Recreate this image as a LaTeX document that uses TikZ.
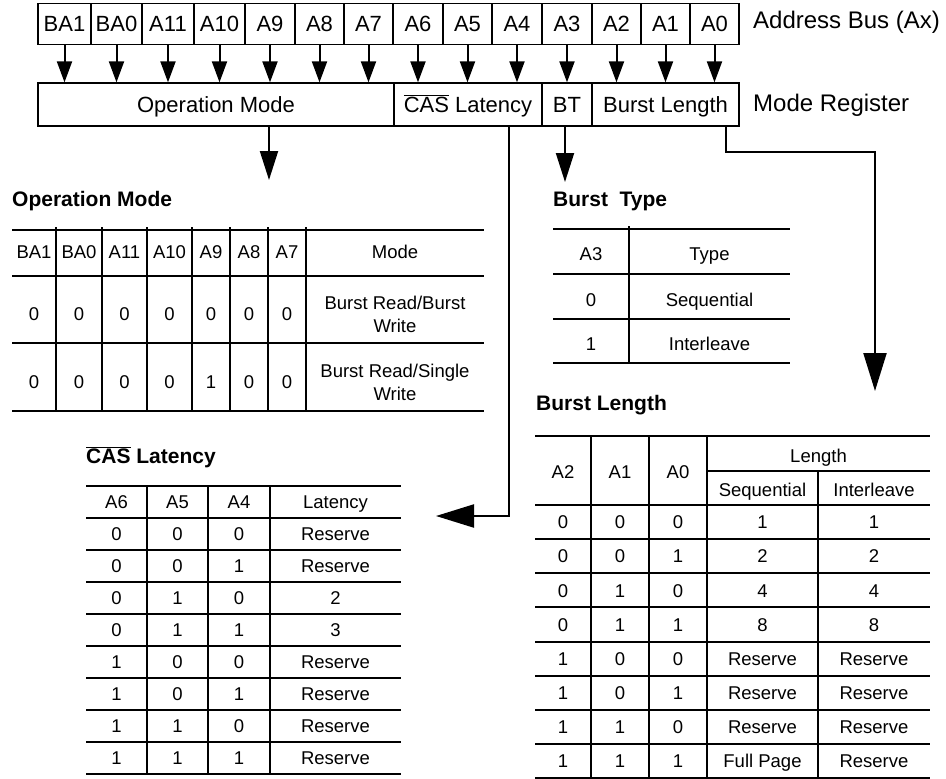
\documentclass[tikz,border=0pt]{standalone}
\usepackage{fontspec}
\setmainfont{Liberation Sans}
\usetikzlibrary{arrows.meta}
\newcommand{\bussz}{\fontsize{22}{24}\selectfont}
\newcommand{\lblsz}{\fontsize{24}{26}\selectfont}
\newcommand{\tabsz}{\fontsize{18.5}{23}\selectfont}
\newcommand{\ttlsz}{\fontsize{21}{23}\selectfont\bfseries}
\newcommand{\negsig}[1]{$\overline{\mbox{#1}}$}

\begin{document}
\begin{tikzpicture}[x=1pt,y=-1pt,
  cell/.style={draw,line width=1.3pt,inner sep=0pt,minimum height=41pt,text height=15.8pt,text depth=0pt,font=\bussz},
  arr/.style={line width=2pt,-{Triangle[length=21pt,width=15pt]}},
  midarr/.style={line width=2pt,-{Triangle[length=29pt,width=18pt]}},
  bigarr/.style={line width=2.2pt,-{Triangle[length=38pt,width=23pt]}},
  rule/.style={line width=2pt},
  sep/.style={line width=1.3pt},
  tab/.style={font=\tabsz,inner sep=0pt,text height=13.3pt,text depth=0pt},
  tabml/.style={font=\tabsz,inner sep=0pt,align=center},
  title/.style={font=\ttlsz,anchor=west,inner sep=0pt}]
  \useasboundingbox (0,0) rectangle (946,779);

  % address bus
  \foreach \l/\r/\t [count=\i] in {38/91/BA1,91/142/BA0,142/194/A11,194/245/A10,245/295/A9,295/344/A8,344/393/A7,393/443/A6,443/492/A5,492/542/A4,542/592/A3,592/641/A2,641/690/A1,690/739/A0}
    \node[cell,minimum width={\r-\l}] (bus\i) at ({(\l+\r)/2},24) {\t};
  \node[anchor=west,inner sep=0pt,font=\lblsz] (buslbl) at (753,22) {Address Bus (Ax)};

  % mode register
  \node[cell,minimum width=356,minimum height=43] (opm) at (216,104.5) {Operation Mode};
  \node[cell,minimum width=148,minimum height=43] (cas) at (468,104.5) {\negsig{CAS} Latency};
  \node[cell,minimum width=50,minimum height=43] (bt) at (567,104.5) {BT};
  \node[cell,minimum width=147,minimum height=43] (bl) at (665.5,104.5) {Burst Length};
  \node[anchor=west,inner sep=0pt,font=\lblsz] (reglbl) at (753,105) {Mode Register};

  \foreach \i in {1,...,14}
    \draw[arr] (bus\i.south) -- (bus\i.south |- opm.north);

  % arrows down to the tables
  \coordinate (optip) at (269,180);
  \coordinate (bttip) at (565,182);
  \coordinate (casknee) at (509,516);
  \coordinate (castip) at (436,516);
  \coordinate (blknee) at (726,152);
  \coordinate (bltip) at (875,391);
  \draw[midarr] (opm.south -| optip) -- (optip);
  \draw[midarr] (bt.south -| bttip) -- (bttip);
  \draw[bigarr] (cas.south -| casknee) -- (casknee) -- (castip);
  \draw[bigarr] (bl.south -| blknee) -- (blknee) -| (bltip);

  % operation mode
  \node[title] (optitle) at (12,201) {Operation Mode};
  \foreach \y in {230,276,343,411}
    \draw[rule] (12,\y) -- (484,\y);
  \foreach \x in {56,102,147,192,230,268,306}
    \draw[sep] (\x,227) -- (\x,411);
  \foreach \t/\x [count=\i] in {BA1/34,BA0/79,A11/124.5,A10/169.5,A9/211,A8/249,A7/287,Mode/395}
    \node[tab] (oph\i) at (\x,252) {\t};
  \foreach \t/\x [count=\i] in {0/34,0/79,0/124.5,0/169.5,0/211,0/249,0/287}
    \node[tab] (opa\i) at (\x,314) {\t};
  \node[tabml] (opa8) at (395,314) {Burst Read/Burst\\Write};
  \foreach \t/\x [count=\i] in {0/34,0/79,0/124.5,0/169.5,1/211,0/249,0/287}
    \node[tab] (opb\i) at (\x,382) {\t};
  \node[tabml] (opb8) at (395,382) {Burst Read/Single\\Write};

  % burst type
  \node[title] (bttitle) at (553,201) {Burst\ \ Type};
  \foreach \y in {229,274,319,363}
    \draw[rule] (553,\y) -- (790,\y);
  \draw[sep] (629,226) -- (629,363);
  \foreach \a/\b/\y [count=\i] in {A3/Type/254,0/Sequential/299.5,1/Interleave/344}{
    \node[tab] (bta\i) at (591,\y) {\a};
    \node[tab] (btb\i) at (709.5,\y) {\b};
  }

  % cas latency
  \node[title] (castitle) at (86,457) {\negsig{CAS} Latency};
  \draw[rule] (86,486) -- (401,486);
  \foreach \i in {0,...,8}
    \draw[rule] (86,518+32*\i) -- (401,518+32*\i);
  \foreach \x in {147,208,270}
    \draw[sep] (\x,486) -- (\x,774);
  \foreach \t/\x [count=\i] in {A6/116.5,A5/177.5,A4/239,Latency/335.5}
    \node[tab] (cash\i) at (\x,502) {\t};
  \foreach \a/\b/\c/\d [count=\i] in {0/0/0/Reserve,0/0/1/Reserve,0/1/0/2,0/1/1/3,1/0/0/Reserve,1/0/1/Reserve,1/1/0/Reserve,1/1/1/Reserve}{
    \node[tab] (casa\i) at (116.5,518+32*\i-16) {\a};
    \node[tab] (casb\i) at (177.5,518+32*\i-16) {\b};
    \node[tab] (casc\i) at (239,518+32*\i-16) {\c};
    \node[tab] (casd\i) at (335.5,518+32*\i-16) {\d};
  }

  % burst length
  \node[title] (bltitle) at (536,405) {Burst Length};
  \draw[rule] (535,436) -- (930,436);
  \draw[rule] (707,471) -- (930,471);
  \foreach \i in {0,...,8}
    \draw[rule] (535,505+34.125*\i) -- (930,505+34.125*\i);
  \foreach \x in {591,649,707}
    \draw[sep] (\x,436) -- (\x,778);
  \draw[sep] (818,471) -- (818,778);
  \node[tab] (blh1) at (563,472) {A2};
  \node[tab] (blh2) at (620,472) {A1};
  \node[tab] (blh3) at (678,472) {A0};
  \node[tab] (blh4) at (818.5,456) {Length};
  \node[tab] (blh5) at (762.5,490) {Sequential};
  \node[tab] (blh6) at (874,490) {Interleave};
  \foreach \a/\b/\c/\d/\e [count=\i] in {0/0/0/1/1,0/0/1/2/2,0/1/0/4/4,0/1/1/8/8,1/0/0/Reserve/Reserve,1/0/1/Reserve/Reserve,1/1/0/Reserve/Reserve,1/1/1/Full Page/Reserve}{
    \node[tab] (bla\i) at (563,505+34.125*\i-17) {\a};
    \node[tab] (blb\i) at (620,505+34.125*\i-17) {\b};
    \node[tab] (blc\i) at (678,505+34.125*\i-17) {\c};
    \node[tab] (bld\i) at (762.5,505+34.125*\i-17) {\d};
    \node[tab] (ble\i) at (874,505+34.125*\i-17) {\e};
  }
\end{tikzpicture}
\end{document}
